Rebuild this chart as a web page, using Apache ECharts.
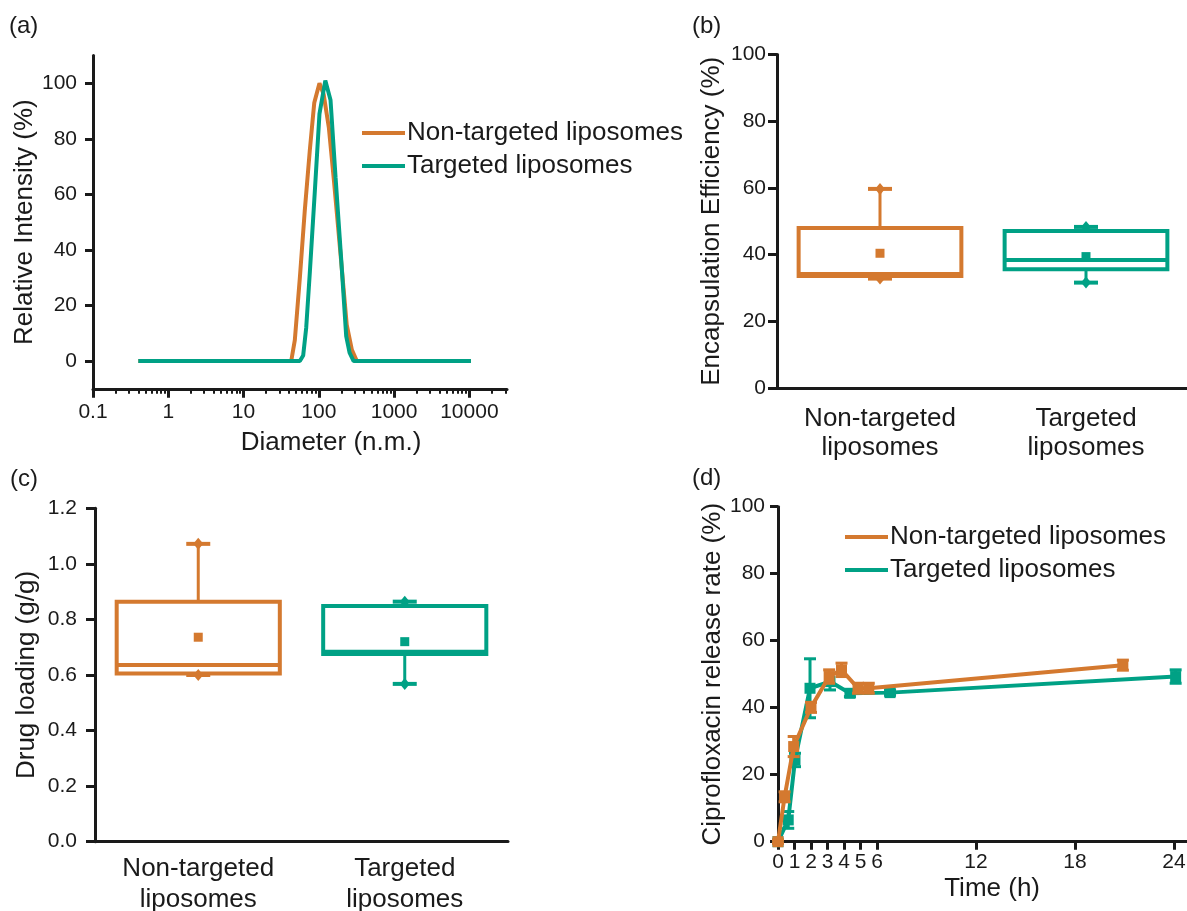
<!DOCTYPE html>
<html>
<head>
<meta charset="utf-8">
<script src="https://cdn.jsdelivr.net/npm/echarts@6/dist/echarts.min.js"></script>
<style>
  html, body { margin: 0; padding: 0; background: #ffffff; }
  #chart { width: 1187px; height: 911px; }
</style>
</head>
<body>
<div id="chart"></div>
<script>
// ---------- data ----------
const seriesNames = ['Non-targeted liposomes', 'Targeted liposomes'];

// (a) size distribution: [diameter (nm), relative intensity (%)]
const sizeNonTargeted = [[0.4, 0], [43, 0], [48, 7.5], [56, 30], [65, 54], [76, 76], [87, 93], [102, 100],
  [116, 96], [136, 84], [160, 64], [195, 38], [235, 13], [275, 4], [320, 0], [10500, 0]];
const sizeTargeted = [[0.4, 0], [56, 0], [62, 2], [68, 12], [76, 32], [88, 60], [102, 89], [122, 101],
  [143, 94], [167, 66], [199, 36], [231, 9], [256, 3], [290, 0], [10500, 0]];

// (b), (c) box statistics: [min, Q1, median, Q3, max, mean]
const boxCategories = ['Non-targeted\nliposomes', 'Targeted\nliposomes'];
const eeNonTargeted = [32.8, 33.6, 34.2, 48.0, 59.7, 40.4];
const eeTargeted = [31.6, 35.6, 38.4, 47.1, 48.3, 39.4];
const dlNonTargeted = [0.600, 0.605, 0.636, 0.864, 1.072, 0.736];
const dlTargeted = [0.568, 0.676, 0.684, 0.848, 0.864, 0.720];

// (d) ciprofloxacin release: time (h), mean (%), standard deviation (%)
const timeNonTargeted = [0, 0.4, 0.95, 2, 3.1, 3.85, 4.85, 5.5, 20.9];
const releaseNonTargeted = [0, 13.4, 28.4, 40.1, 49.3, 51.3, 45.8, 45.8, 52.7];
const sdNonTargeted = [0.5, 1.5, 3, 1.5, 2, 2, 1.5, 1.5, 1.5];
const timeTargeted = [0, 0.62, 1.03, 1.94, 3.15, 4.36, 6.79, 24.1];
const releaseTargeted = [0, 6.5, 24.4, 45.8, 47.8, 44.3, 44.5, 49.3];
const sdTargeted = [0.5, 2.5, 2, 8.8, 2.5, 1, 0.8, 2];

// tick values
const sizeTicks = [0.1, 1, 10, 100, 1000, 10000];
const intensityTicks = [0, 20, 40, 60, 80, 100];
const timeTicks = [0, 1, 2, 3, 4, 5, 6, 12, 18, 24];

// ---------- styles ----------
const ORANGE = '#D4792F';
const TEAL = '#00A185';
const INK = '#1a1a1a';
const FONT = '"Liberation Sans", Arial, Helvetica, sans-serif';
const axisLine = { show: true, onZero: false, lineStyle: { color: INK, width: 3 } };
const tickStyle = { color: INK, width: 3 };
const tickFont = { fontSize: 21, color: INK, fontFamily: FONT };
const titleFont = { fontSize: 26, color: INK, fontFamily: FONT };

// log-axis tick positions expressed as decade exponents
const sizeMajorExp = sizeTicks.map(v => Math.log10(v));
const sizeMinorExp = [];
sizeTicks.forEach(d => {
  for (let k = 2; k <= 9; k++) {
    const e = Math.log10(d * k);
    if (e <= 4.5) sizeMinorExp.push(e);
  }
});

// ---------- renderers ----------
function renderBox(params, api) {
  const cat = api.value(0);
  const mn = api.value(1), q1 = api.value(2), md = api.value(3),
        q3 = api.value(4), mx = api.value(5), mean = api.value(6);
  const cx = api.coord([cat, md])[0];
  const y = v => api.coord([cat, v])[1];
  const w = api.size([1, 0])[0] * 0.79;
  const color = api.visual('color');
  const thick = { stroke: color, lineWidth: 4, fill: 'none' };
  const thin = { stroke: color, lineWidth: 3, fill: 'none' };
  const cap = 12;
  const diamond = yy => ({
    type: 'polygon',
    shape: { points: [[cx, yy - 6], [cx + 5, yy], [cx, yy + 6], [cx - 5, yy]] },
    style: { fill: color }
  });
  return {
    type: 'group',
    children: [
      { type: 'line', shape: { x1: cx, y1: y(q3), x2: cx, y2: y(mx) }, style: thin },
      { type: 'line', shape: { x1: cx, y1: y(q1), x2: cx, y2: y(mn) }, style: thin },
      { type: 'line', shape: { x1: cx - cap, y1: y(mx), x2: cx + cap, y2: y(mx) }, style: thick },
      { type: 'line', shape: { x1: cx - cap, y1: y(mn), x2: cx + cap, y2: y(mn) }, style: thick },
      diamond(y(mx)),
      diamond(y(mn)),
      { type: 'rect', shape: { x: cx - w / 2, y: y(q3), width: w, height: y(q1) - y(q3) }, style: thick },
      { type: 'line', shape: { x1: cx - w / 2, y1: y(md), x2: cx + w / 2, y2: y(md) }, style: thick },
      { type: 'rect', shape: { x: cx - 4.5, y: y(mean) - 4.5, width: 9, height: 9 }, style: { fill: color } }
    ]
  };
}

function renderErrorBar(params, api) {
  const x = api.value(0);
  const lo = api.coord([x, api.value(1)]);
  const hi = api.coord([x, api.value(2)]);
  const half = 6;
  const style = { stroke: api.visual('color'), lineWidth: 3, fill: 'none' };
  return {
    type: 'group',
    children: [
      { type: 'line', shape: { x1: lo[0], y1: lo[1], x2: hi[0], y2: hi[1] }, style },
      { type: 'line', shape: { x1: lo[0] - half, y1: lo[1], x2: lo[0] + half, y2: lo[1] }, style },
      { type: 'line', shape: { x1: hi[0] - half, y1: hi[1], x2: hi[0] + half, y2: hi[1] }, style }
    ]
  };
}

const pairs = (xs, ys) => xs.map((x, i) => [x, ys[i]]);
const bars = (xs, ys, sd) => xs.map((x, i) => [x, ys[i] - sd[i], ys[i] + sd[i]]);

const legendBase = {
  data: seriesNames,
  orient: 'vertical',
  icon: 'rect',
  padding: 0,
  itemWidth: 43,
  itemHeight: 4,
  itemGap: 7,
  selectedMode: false,
  textStyle: Object.assign({}, titleFont, { padding: [0, 0, 0, -3] })
};

// every grid keeps its exact rectangle, even where labels run to the page edge
const gridRect = (left, top, width, height) => ({ left, top, width, height, outerBoundsMode: 'none', containLabel: false });

const option = {
  animation: false,
  backgroundColor: '#ffffff',
  textStyle: { fontFamily: FONT, color: INK },
  grid: [
    gridRect(93, 55.5, 414, 333.3),    // (a)
    gridRect(93, 55.5, 414, 333.3),    // (a) major ticks
    gridRect(93, 55.5, 414, 333.3),    // (a) minor ticks
    gridRect(777, 54.5, 412, 333.5),   // (b)
    gridRect(95, 508.3, 413, 333.4),   // (c)
    gridRect(778, 506.7, 409.2, 335)   // (d)
  ],
  legend: [
    Object.assign({}, legendBase, { left: 362, top: 120 }),
    Object.assign({}, legendBase, { left: 845, top: 524 })
  ],
  graphic: [
    { type: 'text', left: 9, top: 14, style: { text: '(a)', font: '24px ' + FONT, fill: INK } },
    { type: 'text', left: 692, top: 14, style: { text: '(b)', font: '24px ' + FONT, fill: INK } },
    { type: 'text', left: 10, top: 467, style: { text: '(c)', font: '24px ' + FONT, fill: INK } },
    { type: 'text', left: 692, top: 466, style: { text: '(d)', font: '24px ' + FONT, fill: INK } }
  ],
  xAxis: [
    {
      gridIndex: 0, type: 'log', logBase: 10, min: 0.1, max: 31622.78,
      axisLine, axisTick: { show: false }, splitLine: { show: false },
      axisLabel: Object.assign({}, tickFont, {
        margin: 13, showMaxLabel: false,
        formatter: v => {
          const e = Math.log10(v);
          if (Math.abs(e - Math.round(e)) > 1e-6) return '';
          return String(Number(v.toPrecision(1)));
        }
      }),
      name: 'Diameter (n.m.)', nameLocation: 'middle', nameGap: 41,
      nameTextStyle: Object.assign({}, titleFont, { padding: [0, 0, 0, 62] })
    },
    {
      gridIndex: 1, type: 'value', min: -1, max: 4.5,
      axisLine: { show: false }, axisLabel: { show: false }, splitLine: { show: false },
      axisTick: { show: true, customValues: sizeMajorExp, length: 9, lineStyle: tickStyle }
    },
    {
      gridIndex: 2, type: 'value', min: -1, max: 4.5,
      axisLine: { show: false }, axisLabel: { show: false }, splitLine: { show: false },
      axisTick: { show: true, customValues: sizeMinorExp, length: 5, lineStyle: { color: INK, width: 2 } }
    },
    {
      gridIndex: 3, type: 'category', data: boxCategories, boundaryGap: true,
      axisLine, splitLine: { show: false },
      axisTick: { alignWithLabel: true, length: 8, lineStyle: tickStyle },
      axisLabel: Object.assign({}, titleFont, { lineHeight: 29, margin: 16, interval: 0 })
    },
    {
      gridIndex: 4, type: 'category', data: boxCategories, boundaryGap: true,
      axisLine, splitLine: { show: false },
      axisTick: { alignWithLabel: true, length: 8, lineStyle: tickStyle },
      axisLabel: Object.assign({}, titleFont, { lineHeight: 31, margin: 12, interval: 0 })
    },
    {
      gridIndex: 5, type: 'value', min: 0, max: 24.8,
      axisLine, splitLine: { show: false },
      axisTick: { show: true, customValues: timeTicks, length: 8, lineStyle: tickStyle },
      axisLabel: Object.assign({}, tickFont, { customValues: timeTicks, margin: 10 }),
      name: 'Time (h)', nameLocation: 'middle', nameGap: 34,
      nameTextStyle: Object.assign({}, titleFont, { padding: [0, 0, 0, 19] })
    }
  ],
  yAxis: [
    {
      gridIndex: 0, type: 'value', min: -10, max: 110,
      axisLine, splitLine: { show: false },
      axisTick: { show: true, customValues: intensityTicks, length: 8, lineStyle: tickStyle },
      axisLabel: Object.assign({}, tickFont, { customValues: intensityTicks, margin: 16 }),
      name: 'Relative Intensity (%)', nameLocation: 'middle', nameGap: 53, nameTextStyle: titleFont
    },
    { gridIndex: 1, type: 'value', min: 0, max: 1, show: false },
    { gridIndex: 2, type: 'value', min: 0, max: 1, show: false },
    {
      gridIndex: 3, type: 'value', min: 0, max: 100, interval: 20,
      axisLine, splitLine: { show: false },
      axisTick: { show: true, length: 9, lineStyle: tickStyle },
      axisLabel: Object.assign({}, tickFont, { margin: 11 }),
      name: 'Encapsulation Efficiency (%)', nameLocation: 'middle', nameGap: 52, nameTextStyle: titleFont
    },
    {
      gridIndex: 4, type: 'value', min: 0, max: 1.2, interval: 0.2,
      axisLine, splitLine: { show: false },
      axisTick: { show: true, length: 9, lineStyle: tickStyle },
      axisLabel: Object.assign({}, tickFont, { margin: 18, formatter: v => v.toFixed(1) }),
      name: 'Drug loading (g/g)', nameLocation: 'middle', nameGap: 55, nameTextStyle: titleFont
    },
    {
      gridIndex: 5, type: 'value', min: 0, max: 100, interval: 20,
      axisLine, splitLine: { show: false },
      axisTick: { show: true, length: 8, lineStyle: tickStyle },
      axisLabel: Object.assign({}, tickFont, { margin: 13 }),
      name: 'Ciprofloxacin release rate (%)', nameLocation: 'middle', nameGap: 51, nameTextStyle: titleFont
    }
  ],
  series: [
    // (a)
    {
      type: 'line', name: seriesNames[0], xAxisIndex: 0, yAxisIndex: 0, data: sizeNonTargeted,
      symbol: 'none', lineStyle: { color: ORANGE, width: 4 }, itemStyle: { color: ORANGE }, z: 2
    },
    {
      type: 'line', name: seriesNames[1], xAxisIndex: 0, yAxisIndex: 0, data: sizeTargeted,
      symbol: 'none', lineStyle: { color: TEAL, width: 4 }, itemStyle: { color: TEAL }, z: 3
    },
    // (b)
    {
      type: 'custom', name: 'EE non-targeted', xAxisIndex: 3, yAxisIndex: 3, renderItem: renderBox,
      itemStyle: { color: ORANGE }, encode: { x: 0, y: [1, 2, 3, 4, 5, 6] }, data: [[0].concat(eeNonTargeted)]
    },
    {
      type: 'custom', name: 'EE targeted', xAxisIndex: 3, yAxisIndex: 3, renderItem: renderBox,
      itemStyle: { color: TEAL }, encode: { x: 0, y: [1, 2, 3, 4, 5, 6] }, data: [[1].concat(eeTargeted)]
    },
    // (c)
    {
      type: 'custom', name: 'DL non-targeted', xAxisIndex: 4, yAxisIndex: 4, renderItem: renderBox,
      itemStyle: { color: ORANGE }, encode: { x: 0, y: [1, 2, 3, 4, 5, 6] }, data: [[0].concat(dlNonTargeted)]
    },
    {
      type: 'custom', name: 'DL targeted', xAxisIndex: 4, yAxisIndex: 4, renderItem: renderBox,
      itemStyle: { color: TEAL }, encode: { x: 0, y: [1, 2, 3, 4, 5, 6] }, data: [[1].concat(dlTargeted)]
    },
    // (d)
    {
      type: 'custom', name: 'sd targeted', xAxisIndex: 5, yAxisIndex: 5, renderItem: renderErrorBar,
      itemStyle: { color: TEAL }, encode: { x: 0, y: [1, 2] }, data: bars(timeTargeted, releaseTargeted, sdTargeted), z: 2
    },
    {
      type: 'line', name: seriesNames[1], xAxisIndex: 5, yAxisIndex: 5, data: pairs(timeTargeted, releaseTargeted),
      symbol: 'rect', symbolSize: 11, lineStyle: { color: TEAL, width: 4 }, itemStyle: { color: TEAL }, z: 3
    },
    {
      type: 'custom', name: 'sd non-targeted', xAxisIndex: 5, yAxisIndex: 5, renderItem: renderErrorBar,
      itemStyle: { color: ORANGE }, encode: { x: 0, y: [1, 2] }, data: bars(timeNonTargeted, releaseNonTargeted, sdNonTargeted), z: 4
    },
    {
      type: 'line', name: seriesNames[0], xAxisIndex: 5, yAxisIndex: 5, data: pairs(timeNonTargeted, releaseNonTargeted),
      symbol: 'rect', symbolSize: 11, lineStyle: { color: ORANGE, width: 4 }, itemStyle: { color: ORANGE }, z: 5
    }
  ]
};

const chart = echarts.init(document.getElementById('chart'), null, { renderer: 'canvas' });
chart.setOption(option);
</script>
</body>
</html>
